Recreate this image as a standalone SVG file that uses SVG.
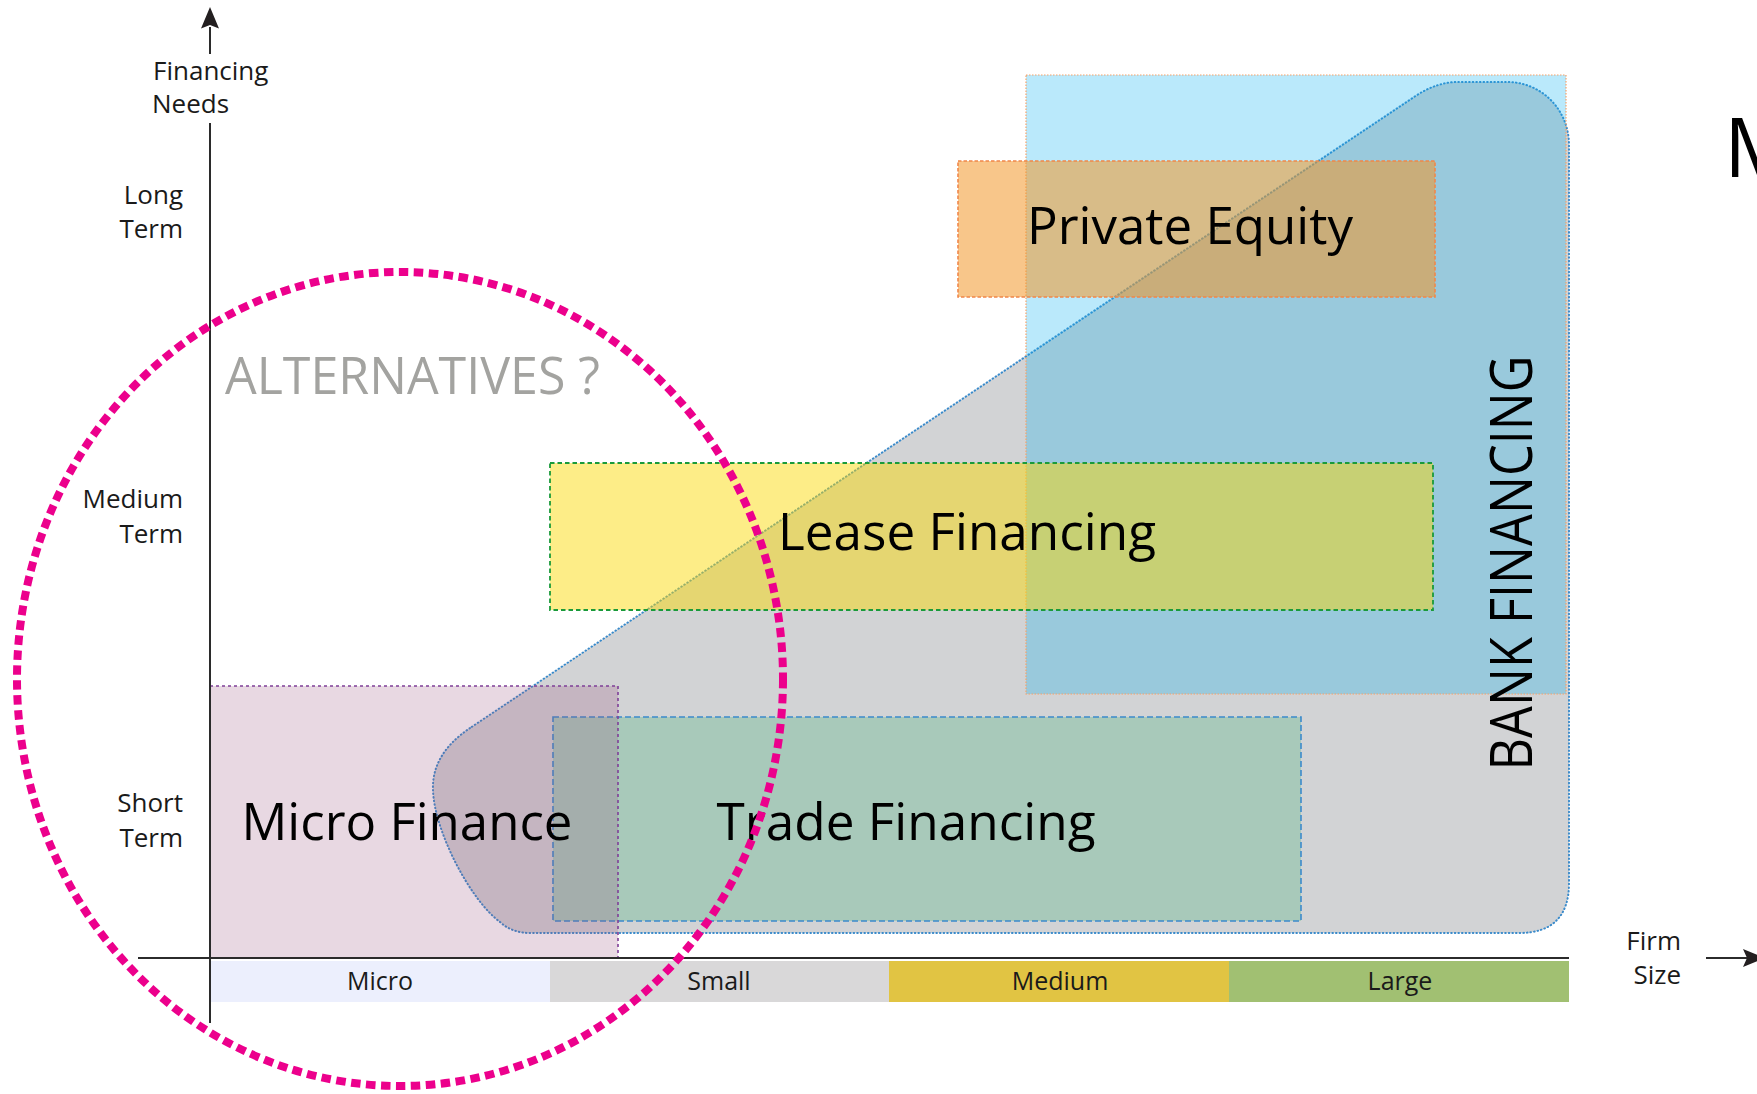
<svg xmlns="http://www.w3.org/2000/svg" width="1757" height="1094" viewBox="0 0 1757 1094">
  <style>
    .lbl { font-family: "Open Sans", "Liberation Sans", sans-serif; fill: #1a1a1a; }
    .axis-lbl { font-size: 26px; }
    .bar-lbl { font-size: 25px; text-anchor: middle; }
    .big { font-size: 52px; fill: #000; }
    .axis { stroke: #2b2b2b; stroke-width: 2; fill: none; }
  </style>

  <rect x="0" y="0" width="1757" height="1094" fill="#ffffff"/>

  <!-- Bank financing envelope -->
  <g id="bank-financing">
    <path d="M 470,728 C 445,745 432,765 433,790 C 434,830 470,900 500,922 Q 512,933 530,933 L 1519,933 Q 1569,933 1569,883 L 1569,145 C 1569,110 1542,82 1507,82 L 1458,82 Q 1436,82 1414,97 Z"
          fill="#d2d3d5" stroke="#3b8bcb" stroke-width="2" stroke-dasharray="0.6 3" stroke-linecap="round"/>
  </g>

  <!-- Long-term large-firm zone -->
  <g id="large-zone">
    <rect x="1026" y="75" width="540" height="619" fill="#00aeef" fill-opacity="0.27"
          stroke="#f5a26a" stroke-width="1.2" stroke-dasharray="1.5 1.5"/>
  </g>

  <g id="private-equity">
    <rect x="958" y="161" width="477" height="136" fill="rgb(242,149,38)" fill-opacity="0.54"
          stroke="#f0874a" stroke-width="1.6" stroke-dasharray="3.5 2"/>
    <text class="lbl big" x="1190" y="244" text-anchor="middle" textLength="326" lengthAdjust="spacingAndGlyphs">Private Equity</text>
  </g>

  <g id="lease-financing">
    <rect x="550" y="463" width="883" height="147" fill="rgb(251,217,0)" fill-opacity="0.47"
          stroke="#1a9a3a" stroke-width="1.8" stroke-dasharray="4.5 3"/>
    <text class="lbl big" x="967" y="550" text-anchor="middle" textLength="378" lengthAdjust="spacingAndGlyphs">Lease Financing</text>
  </g>

  <g id="trade-financing">
    <rect x="553" y="717" width="748" height="204" fill="#00a651" fill-opacity="0.2"
          stroke="#3b8bcb" stroke-width="1.6" stroke-dasharray="6 3"/>
    <text class="lbl big" x="906" y="840" text-anchor="middle" textLength="379" lengthAdjust="spacingAndGlyphs">Trade Financing</text>
  </g>

  <g id="micro-finance">
    <rect x="210" y="686" width="408" height="272" fill="rgb(150,77,123)" fill-opacity="0.22"
          stroke="#7f3f98" stroke-width="1.6" stroke-dasharray="3 3"/>
    <text class="lbl big" x="407" y="840" text-anchor="middle" textLength="331" lengthAdjust="spacingAndGlyphs">Micro Finance</text>
  </g>

  <g id="bank-label">
    <text class="lbl big" x="0" y="0" transform="translate(1532,563) rotate(-90)" text-anchor="middle"
          textLength="415" lengthAdjust="spacingAndGlyphs" style="font-size:58px">BANK FINANCING</text>
  </g>

  <g id="alternatives">
    <text class="lbl" x="225" y="394" style="font-size:51px;fill:#a3a3a0" textLength="375" lengthAdjust="spacingAndGlyphs">ALTERNATIVES ?</text>
  </g>

  <!-- Firm size scale -->
  <g id="firm-size-scale">
    <rect x="211" y="961" width="339" height="41" fill="#eceffd"/>
    <rect x="550" y="961" width="339" height="41" fill="#d9d8d9"/>
    <rect x="889" y="961" width="340" height="41" fill="#e1c443"/>
    <rect x="1229" y="961" width="340" height="41" fill="#a1c072"/>
    <text class="lbl bar-lbl" x="380" y="990">Micro</text>
    <text class="lbl bar-lbl" x="719" y="990">Small</text>
    <text class="lbl bar-lbl" x="1060" y="990">Medium</text>
    <text class="lbl bar-lbl" x="1400" y="990">Large</text>
  </g>

  <!-- Axes -->
  <g id="axes">
    <line class="axis" x1="210" y1="27" x2="210" y2="54"/>
    <line class="axis" x1="210" y1="123" x2="210" y2="1023"/>
    <path d="M 210,7 L 219,28.5 L 210,25 L 201,28.5 Z" fill="#231f20"/>
    <line class="axis" x1="138" y1="958" x2="1569" y2="958"/>
    <line class="axis" x1="1706" y1="958" x2="1748" y2="958"/>
    <path d="M 1765,958 L 1743,949 L 1747,958 L 1743,967 Z" fill="#231f20"/>
  </g>

  <g id="axis-labels">
    <text class="lbl axis-lbl" x="153" y="80">Financing</text>
    <text class="lbl axis-lbl" x="152" y="113">Needs</text>
    <text class="lbl axis-lbl" x="183" y="204" text-anchor="end">Long</text>
    <text class="lbl axis-lbl" x="183" y="238" text-anchor="end">Term</text>
    <text class="lbl axis-lbl" x="183" y="508" text-anchor="end">Medium</text>
    <text class="lbl axis-lbl" x="183" y="543" text-anchor="end">Term</text>
    <text class="lbl axis-lbl" x="183" y="812" text-anchor="end">Short</text>
    <text class="lbl axis-lbl" x="183" y="847" text-anchor="end">Term</text>
    <text class="lbl axis-lbl" x="1681" y="950" text-anchor="end">Firm</text>
    <text class="lbl axis-lbl" x="1681" y="984" text-anchor="end">Size</text>
  </g>

  <!-- Partially visible heading at the right edge -->
  <text class="lbl" x="1724" y="177" style="font-size:82px;fill:#000">M</text>

  <!-- Alternatives zone outline -->
  <g id="alternatives-zone">
    <ellipse cx="400" cy="679" rx="383" ry="407" fill="none" stroke="#ec008c" stroke-width="8" stroke-dasharray="9.5 5.5"/>
  </g>
</svg>
